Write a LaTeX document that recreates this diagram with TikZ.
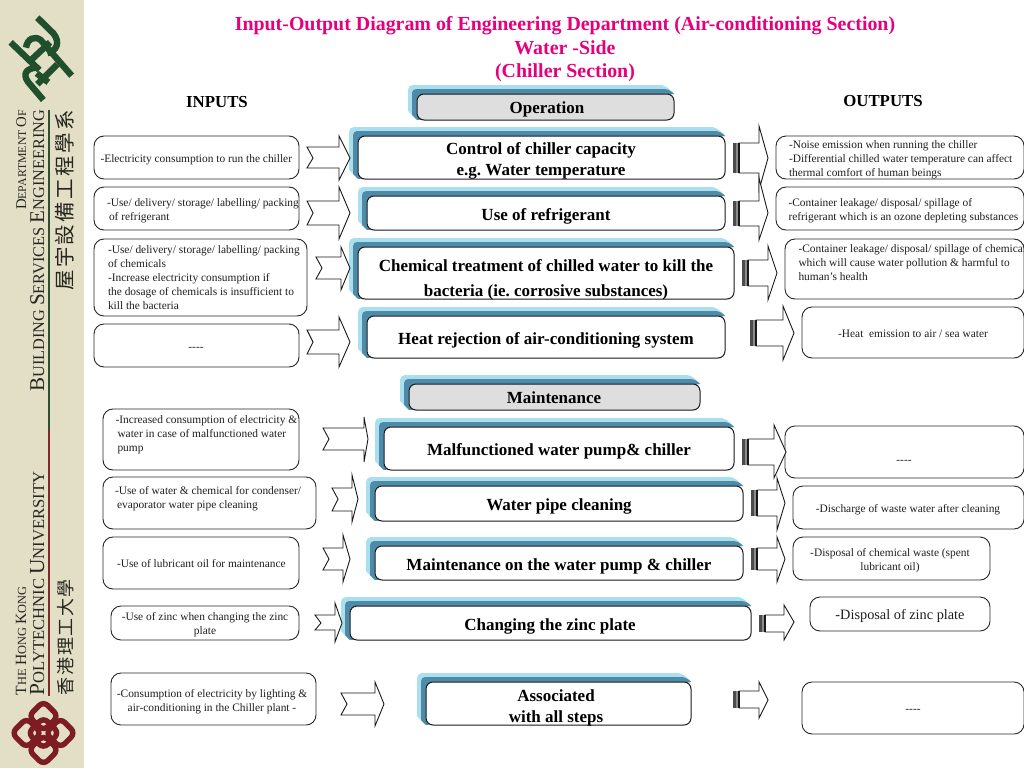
\documentclass[tikz,border=0pt]{standalone}
\usepackage{fontspec}
\setmainfont{Liberation Serif}
\newfontfamily\cjkfont{Noto Sans CJK TC}
\frenchspacing
\definecolor{sidebar}{HTML}{E3DFC6}
\definecolor{titlepink}{HTML}{E6007E}
\definecolor{backcyan}{HTML}{A9E0EF}
\definecolor{midblue}{HTML}{4F8BA8}
\definecolor{opgray}{HTML}{DEDEDE}
\definecolor{logogreen}{HTML}{1F4F2B}
\definecolor{logored}{HTML}{7E1C24}
\definecolor{sidetext}{HTML}{26261F}
\definecolor{linegreen}{HTML}{2F5030}
\definecolor{linered}{HTML}{7E2A2A}
\tikzset{
  iobox/.style={draw=black!85,line width=0.9pt,rounded corners=10pt,inner sep=0pt,outer sep=0pt,fill=white},
  procbox/.style={draw=black!90,line width=1pt,rounded corners=7pt,inner sep=0pt,outer sep=0pt,fill=white},
  smalltxt/.style={inner sep=0pt,outer sep=0pt,text=black!88,font=\fontsize{11.4}{14}\selectfont},
  proctxt/.style={inner sep=0pt,outer sep=0pt,text=black,font=\bfseries\fontsize{17}{21}\selectfont,align=center,anchor=north},
  headtxt/.style={inner sep=0pt,outer sep=0pt,text=black,font=\bfseries\fontsize{16.8}{20}\selectfont,anchor=base},
  titletxt/.style={inner sep=0pt,outer sep=0pt,text=titlepink,font=\bfseries\fontsize{19.9}{20}\selectfont,anchor=base},
  sidetxt/.style={inner sep=0pt,outer sep=0pt,text=sidetext,rotate=90,anchor=base east},
  blockarrow/.style={draw=black!90,line width=0.9pt,fill=white,line join=miter},
  greenstroke/.style={draw=logogreen,line width=6.4pt,line cap=butt},
  redstroke/.style={draw=logored,line width=5.4pt,rounded corners=6pt},
}
\newcommand{\iobx}[6][iobox]{\node[#1,minimum width={(#5-#3)*1pt},minimum height={(#6-#4)*1pt}] (#2) at ({(#3+#5)/2},{(#4+#6)/2}) {};}
\newcommand{\procbx}[7][white]{%
  \fill[backcyan,rounded corners=5pt] ({#3-#7},{#6-#7}) -- ({#3-#7},{#4-#7}) -- ({#5-#7},{#4-#7}) [sharp corners] -- (#5,#4) -- (#3,#6) -- cycle;
  \fill[midblue,rounded corners=4pt] ({#3-#7*0.55},{#6-#7*0.55}) -- ({#3-#7*0.55},{#4-#7*0.55}) -- ({#5-#7*0.55},{#4-#7*0.55}) [sharp corners] -- (#5,#4) -- (#3,#6) -- cycle;
  \node[procbox,fill=#1,minimum width={(#5-#3)*1pt},minimum height={(#6-#4)*1pt}] (#2) at ({(#3+#5)/2},{(#4+#6)/2}) {};}
\newcommand{\lefttext}[4]{\node[smalltxt,anchor=north west,align=left] (#1) at (#2,{#3-7.6}) {\vphantom{A}#4};}
\newcommand{\midtext}[4]{\node[smalltxt,anchor=north,align=center] (#1) at (#2,{#3-7.6}) {\vphantom{A}#4};}
\newcommand{\proctext}[4]{\node[proctxt] (#1) at (#2,{#3-11.3}) {\vphantom{A}#4};}
\newcommand{\inarrow}[8]{\draw[blockarrow] (#1,#7) -- (#2,#7) -- (#2,#5) -- (#3,#4) -- (#2,#6) -- (#2,#8) -- (#1,#8) -- ({#1+6},#4) -- cycle;}
\newcommand{\outarrow}[8]{\draw[blockarrow] ({#1+6},#7) -- (#2,#7) -- (#2,#5) -- (#3,#4) -- (#2,#6) -- (#2,#8) -- ({#1+6},#8) -- cycle;
  \fill[black!70] (#1,#7) rectangle ({#1+2.5},#8);
  \fill[black!45] ({#1+2.5},#7) rectangle ({#1+5},#8);
  \fill[black!90] ({#1+5},#7) rectangle ({#1+7},#8);}
\newcommand{\capsm}[2]{{\fontsize{#1}{#1}\selectfont #2}}
\newcommand{\dashes}{-{}-{}-{}-}
\begin{document}
\begin{tikzpicture}[x=1pt,y=-1pt]
\useasboundingbox (0,0) rectangle (1024,768);
\fill[white] (0,0) rectangle (1024,768);
\fill[sidebar] (0,0) rectangle (84,768);
\draw[linegreen,line width=1.1pt] (49,110) -- (49,430);
\draw[linered,line width=1.1pt] (49,430) -- (49,696);
\node[sidetxt] (dept) at (26,110) {\capsm{14.8}{D}\capsm{11.8}{EPARTMENT }\capsm{14.8}{O}\capsm{11.8}{F}};
\node[sidetxt] (bse) at (44,110) {\capsm{21}{B}\capsm{16.3}{UILDING }\capsm{21}{S}\capsm{16.3}{ERVICES }\capsm{21}{E}\capsm{16.3}{NGINEERING}};
\node[sidetxt] (bsecjk) at (72,110) {\cjkfont\fontsize{20.5}{20.5}\selectfont 屋\kern2.4pt 宇\kern2.4pt 設\kern2.4pt 備\kern2.4pt 工\kern2.4pt 程\kern2.4pt 學\kern2.4pt 系};
\node[sidetxt] (hk) at (26,695) [anchor=base west] {\capsm{15.6}{T}\capsm{12.4}{HE }\capsm{15.6}{H}\capsm{12.4}{ONG }\capsm{15.6}{K}\capsm{12.4}{ONG}};
\node[sidetxt] (polyu) at (44,695) [anchor=base west] {\capsm{21.4}{P}\capsm{16.6}{OLYTECHNIC }\capsm{21.4}{U}\capsm{16.6}{NIVERSITY}};
\node[sidetxt] (polycjk) at (72,695) [anchor=base west] {\cjkfont\fontsize{18}{18}\selectfont 香\kern1.6pt 港\kern1.6pt 理\kern1.6pt 工\kern1.6pt 大\kern1.6pt 學};
\begin{scope}[x=0.3333pt,y=-0.3333pt,yshift=-5pt]
  \draw[greenstroke] (32,112) -- (118,195);
  \draw[greenstroke] (112,38) -- (160,85) .. controls (182,112) and (170,138) .. (142,145);
  \draw[greenstroke] (78,128) .. controls (82,100) and (105,92) .. (122,105) -- (215,212);
  \draw[greenstroke] (130,285) -- (85,232) .. controls (65,205) and (82,190) .. (108,188);
  \draw[greenstroke] (88,170) -- (150,112);
  \draw[greenstroke] (112,238) -- (172,178);
  \draw[greenstroke] (110,205) -- (145,232);
\end{scope}
\begin{scope}[shift={(43.5,733)},rotate=45]
  \draw[redstroke] (-22.5,-22.5) rectangle (-1.5,-1.5);
  \draw[redstroke] (1.5,-22.5) rectangle (22.5,-1.5);
  \draw[redstroke] (-22.5,1.5) rectangle (-1.5,22.5);
  \draw[redstroke] (1.5,1.5) rectangle (22.5,22.5);
  \draw[redstroke] (-11,-11) rectangle (11,11);
\end{scope}
\node[titletxt] (t1) at (565,30.6) {Input-Output Diagram of Engineering Department (Air-conditioning Section)};
\node[titletxt] (t2) at (565,54.6) {Water -Side};
\node[titletxt] (t3) at (565,77.6) {(Chiller Section)};
\node[headtxt] (inputs) at (217,107) {INPUTS};
\node[headtxt] (outputs) at (883,106) {OUTPUTS};
\procbx[opgray]{op}{417}{94}{674}{120}{9}
\procbx{p1}{358}{136}{725}{179}{9}
\procbx{p2}{367}{196}{725}{230}{9}
\procbx{p3}{358}{247}{734}{299}{9}
\procbx{p4}{367}{316}{725}{358}{9}
\procbx[opgray]{mt}{409}{384}{700}{410}{9}
\procbx{p5}{384}{427}{734}{470}{9}
\procbx{p6}{375}{486}{743}{521}{9}
\procbx{p7}{375}{546}{743}{580}{9}
\procbx{p8}{350}{606}{751}{640}{9}
\procbx{p9}{426}{682}{691}{725}{9}
\proctext{opl}{547}{113}{Operation}
\proctext{p1l}{541}{153.5}{Control of chiller capacity\\e.g. Water temperature}
\proctext{p2l}{546}{219.5}{Use of refrigerant}
\node[proctxt,font=\bfseries\fontsize{17}{25}\selectfont] (p3l) at (546,260) {\vphantom{A}Chemical treatment of chilled water to kill the\\bacteria (ie. corrosive substances)};
\proctext{p4l}{546}{343.5}{Heat rejection of air-conditioning system}
\proctext{mtl}{554}{402.5}{Maintenance}
\proctext{p5l}{559}{454.5}{Malfunctioned water pump\& chiller}
\proctext{p6l}{559}{509.5}{Water pipe cleaning}
\proctext{p7l}{559}{569.5}{Maintenance on the water pump \& chiller}
\proctext{p8l}{550}{629.5}{Changing the zinc plate}
\proctext{p9l}{556}{700.5}{Associated\\with all steps}
\iobx{i1}{94}{136}{299}{179}
\iobx{i2}{94}{187}{299}{230}
\iobx{i3}{94}{239}{307}{316}
\iobx{i4}{94}{324}{299}{367}
\iobx{i5}{103}{409}{299}{470}
\iobx{i6}{103}{477}{316}{529}
\iobx{i7}{103}{537}{299}{589}
\iobx{i8}{111}{606}{299}{640}
\iobx{i9}{111}{673}{316}{725}
\lefttext{i1t}{100.5}{162}{-Electricity consumption to run the chiller}
\lefttext{i2t}{107}{206}{-Use/ delivery/ storage/ labelling/ packing\\\hspace*{2pt}of refrigerant}
\lefttext{i3t}{108}{253}{-Use/ delivery/ storage/ labelling/ packing\\of chemicals\\-Increase electricity consumption if\\the dosage of chemicals is insufficient to\\kill the bacteria}
\midtext{i4t}{196}{351}{\dashes}
\lefttext{i5t}{115.5}{423}{-Increased consumption of electricity \&\\\hspace*{2pt}water in case of malfunctioned water\\\hspace*{2pt}pump}
\lefttext{i6t}{115}{494}{-Use of water \& chemical for condenser/\\\hspace*{2pt}evaporator water pipe cleaning}
\lefttext{i7t}{117}{567}{-Use of lubricant oil for maintenance}
\midtext{i8t}{205}{620}{-Use of zinc when changing the zinc\\plate}
\midtext{i9t}{212}{697}{-Consumption of electricity by lighting \&\\air-conditioning in the Chiller plant -}
\iobx{o1}{776}{136}{1024}{179}
\iobx{o2}{776}{187}{1024}{230}
\iobx{o3}{785}{239}{1024}{299}
\iobx{o4}{802}{307}{1024}{358}
\iobx{o5}{785}{426}{1024}{478}
\iobx{o6}{793}{486}{1024}{529}
\iobx{o7}{793}{537}{990}{580}
\iobx{o8}{810}{597}{990}{631}
\iobx{o9}{802}{682}{1024}{734}
\lefttext{o1t}{789}{148}{-Noise emission when running the chiller\\-Differential chilled water temperature can affect\\thermal comfort of human beings}
\lefttext{o2t}{788.5}{206}{-Container leakage/ disposal/ spillage of\\refrigerant which is an ozone depleting substances}
\lefttext{o3t}{798.5}{252}{-Container leakage/ disposal/ spillage of chemical\\which will cause water pollution \& harmful to\\human’s health}
\midtext{o4t}{913}{338}{-Heat\ \ emission to air / sea water}
\midtext{o5t}{904}{464}{\dashes}
\midtext{o6t}{908}{512}{-Discharge of waste water after cleaning}
\midtext{o7t}{890}{556}{-Disposal of chemical waste (spent\\lubricant oil)}
\node[smalltxt,font=\fontsize{14.3}{15}\selectfont,anchor=base] (o8t) at (900,619.5) {-Disposal of zinc plate};
\midtext{o9t}{913}{713}{\dashes}
\inarrow{307}{339}{350}{158}{136}{180}{147}{168}
\inarrow{307}{339}{350}{213}{187}{239}{201}{225}
\inarrow{316}{341}{350}{268}{247}{290}{257}{279}
\inarrow{307}{339}{350}{342}{317}{367}{330}{354}
\inarrow{323}{364}{368}{439}{417}{462}{428}{450}
\inarrow{332}{352}{358}{499}{475}{522}{488}{511}
\inarrow{323}{343}{350}{559}{535}{582}{548}{570}
\inarrow{315}{335}{342}{623}{603}{642}{615}{630}
\inarrow{341}{375}{384}{704}{682}{726}{693}{715}
\outarrow{733}{759}{768}{158}{126}{190}{143}{173}
\outarrow{733}{759}{768}{213}{178}{240}{201}{226}
\outarrow{742}{768}{777}{273}{246}{300}{260}{286}
\outarrow{750}{783}{794}{333}{306}{360}{320}{346}
\outarrow{742}{774}{786}{452}{425}{478}{439}{465}
\outarrow{751}{777}{785}{503}{478}{530}{490}{516}
\outarrow{751}{777}{785}{559}{537}{582}{548}{570}
\outarrow{759}{784}{794}{622}{605}{640}{615}{632}
\outarrow{733}{759}{768}{700}{682}{718}{691}{708}
\end{tikzpicture}
\end{document}
